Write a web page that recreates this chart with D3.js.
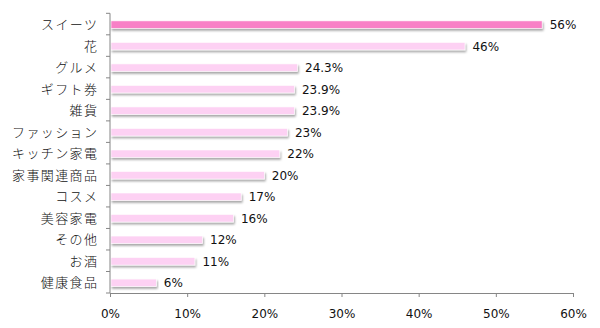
<!DOCTYPE html>
<html><head><meta charset="utf-8">
<script src="https://cdn.jsdelivr.net/npm/d3@7"></script>
<style>
html,body{margin:0;padding:0;background:#fff;}
svg{display:block;}
</style></head>
<body>
<svg id="chart" width="600" height="328"></svg>
<script>
const categories = ["スイーツ","花","グルメ","ギフト券","雑貨","ファッション","キッチン家電","家事関連商品","コスメ","美容家電","その他","お酒","健康食品"];
const values = [56,46,24.3,23.9,23.9,23,22,20,17,16,12,11,6];
const valueLabels = ["56%","46%","24.3%","23.9%","23.9%","23%","22%","20%","17%","16%","12%","11%","6%"];
const xTicks = [0,10,20,30,40,50,60];

const svg = d3.select("#chart");
const plotLeft = 110, plotRight = 573, plotTop = 13.3, plotBottom = 293;

const x = d3.scaleLinear().domain([0,60]).range([plotLeft,plotRight]);
const y = d3.scaleBand().domain(categories).range([plotTop,plotBottom]).paddingInner(0.65).paddingOuter(0.325);

const defs = svg.append("defs");
const f = defs.append("filter").attr("id","sh").attr("x","-5%").attr("y","-50%").attr("width","110%").attr("height","250%");
f.append("feDropShadow").attr("dx",1).attr("dy",2).attr("stdDeviation",0.9).attr("flood-color","#000").attr("flood-opacity",0.35);

// bars
svg.append("g").selectAll("rect").data(categories).join("rect")
  .attr("x", x(0)+1)
  .attr("y", d => y(d)+0.6)
  .attr("width", (d,i) => x(values[i]) - x(0) - 1)
  .attr("height", y.bandwidth())
  .attr("fill", (d,i) => i===0 ? "#f880c6" : "#fdd1f3")
  .attr("stroke","#fff").attr("stroke-width",0.6)
  .attr("filter","url(#sh)");

// value labels
svg.append("g").selectAll("text").data(categories).join("text")
  .attr("x", (d,i) => x(values[i]) + 7.5)
  .attr("y", d => y(d) + y.bandwidth()/2 + 5)
  .attr("font-family","DejaVu Sans, sans-serif")
  .attr("font-size","12px")
  .attr("fill","#111")
  .text((d,i) => valueLabels[i]);

// x axis
const xAxis = d3.axisBottom(x).tickValues(xTicks).tickFormat(d => d + "%").tickSizeOuter(0).tickSize(4).tickPadding(12);
const gx = svg.append("g").attr("transform",`translate(0,${plotBottom})`).call(xAxis);
gx.select(".domain").attr("stroke","#868686");
gx.selectAll(".tick line").attr("stroke","#868686");
gx.selectAll(".tick text").attr("font-family","DejaVu Sans, sans-serif").attr("font-size","12px").attr("fill","#111");

// y axis line and ticks
const gy = svg.append("g");
gy.append("line").attr("x1",plotLeft).attr("x2",plotLeft).attr("y1",plotTop).attr("y2",plotBottom).attr("stroke","#868686");
const bounds = d3.range(categories.length+1).map(i => plotTop + i*(plotBottom-plotTop)/categories.length);
gy.selectAll("line.t").data(bounds).join("line").attr("class","t")
  .attr("x1",plotLeft-4).attr("x2",plotLeft).attr("y1",d=>d).attr("y2",d=>d).attr("stroke","#868686");

// category labels
svg.append("g").selectAll("text").data(categories).join("text")
  .attr("x", 98.4)
  .attr("y", d => y(d) + y.bandwidth()/2 + 5)
  .attr("text-anchor","end")
  .attr("font-family","'Noto Sans CJK JP', sans-serif")
  .attr("font-size","13px")
  .attr("font-weight","300")
  .attr("letter-spacing","1.4px")
  .attr("fill","#111")
  .text(d => d);
</script>
</body></html>
